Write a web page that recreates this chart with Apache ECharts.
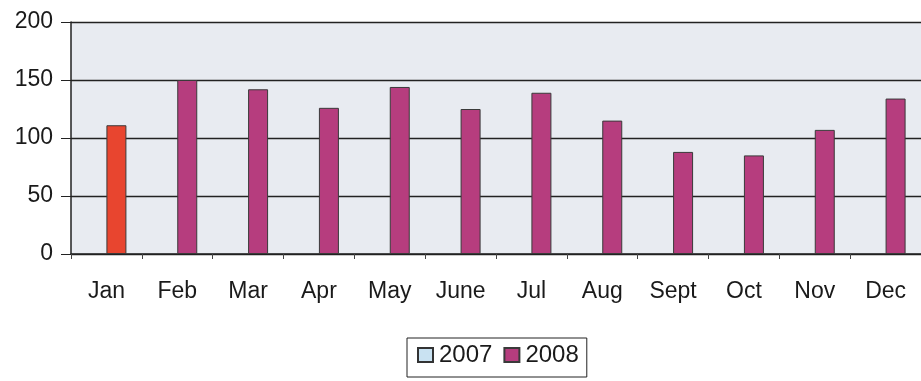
<!DOCTYPE html>
<html>
<head>
<meta charset="utf-8">
<script src="https://cdn.jsdelivr.net/npm/echarts@6/dist/echarts.min.js"></script>
<style>
html,body{margin:0;padding:0;background:#fff;}
#chart{width:921px;height:381px;}
</style>
</head>
<body>
<div id="chart"></div>
<script>
const categories = ['Jan','Feb','Mar','Apr','May','June','Jul','Aug','Sept','Oct','Nov','Dec'];
const series2007 = [null,null,null,null,null,null,null,null,null,null,null,null];
const series2008 = [111,150,142,126,144,125,139,115,88,85,107,134];
const highlightIndex = 0;
const yTicks = {min:0, max:200, interval:50};

const chart = echarts.init(document.getElementById('chart'), null, {renderer:'canvas'});
const font = 'Liberation Sans, Arial, sans-serif';
chart.setOption({
  animation:false,
  backgroundColor:'#ffffff',
  textStyle:{fontFamily:font},
  grid:{left:71, top:22, width:859, height:232, containLabel:false, show:true, backgroundColor:'#e8ebf1', borderWidth:0},
  legend:{
    data:['2007','2008'],
    left:407, top:338,
    itemWidth:15, itemHeight:14, itemGap:11,
    icon:'rect',
    padding:[5,8,10,10],
    borderColor:'#222', borderWidth:1,
    textStyle:{fontSize:24, color:'#1a1a1a', fontFamily:font, padding:[0,0,0,1]}
  },
  xAxis:{
    type:'category', data:categories,
    axisLine:{show:true, lineStyle:{color:'#222', width:1.5}},
    axisTick:{show:true, length:5, inside:false, lineStyle:{color:'#444'}},
    axisLabel:{fontSize:23, color:'#1a1a1a', margin:26, fontFamily:font},
    splitLine:{show:false}
  },
  yAxis:{
    type:'value', min:yTicks.min, max:yTicks.max, interval:yTicks.interval,
    axisLine:{show:true, lineStyle:{color:'#222', width:1.5}},
    axisTick:{show:true, length:10, lineStyle:{color:'#222'}},
    axisLabel:{fontSize:23, color:'#1a1a1a', margin:18, fontFamily:font},
    splitLine:{show:true, lineStyle:{color:'#222', width:1.3}}
  },
  series:[
    {name:'2007', type:'bar', data:series2007, barWidth:20, barGap:'0%',
     itemStyle:{color:'#c9e2f2', borderColor:'#333', borderWidth:1}},
    {name:'2008', type:'bar', barWidth:20, barGap:'0%',
     data:series2008.map((v,i)=> i===highlightIndex ? {value:v, itemStyle:{color:'#e8452f'}} : v),
     itemStyle:{color:'#b63d7e', borderColor:'#3a3a3a', borderWidth:1}}
  ]
});
</script>
</body>
</html>
